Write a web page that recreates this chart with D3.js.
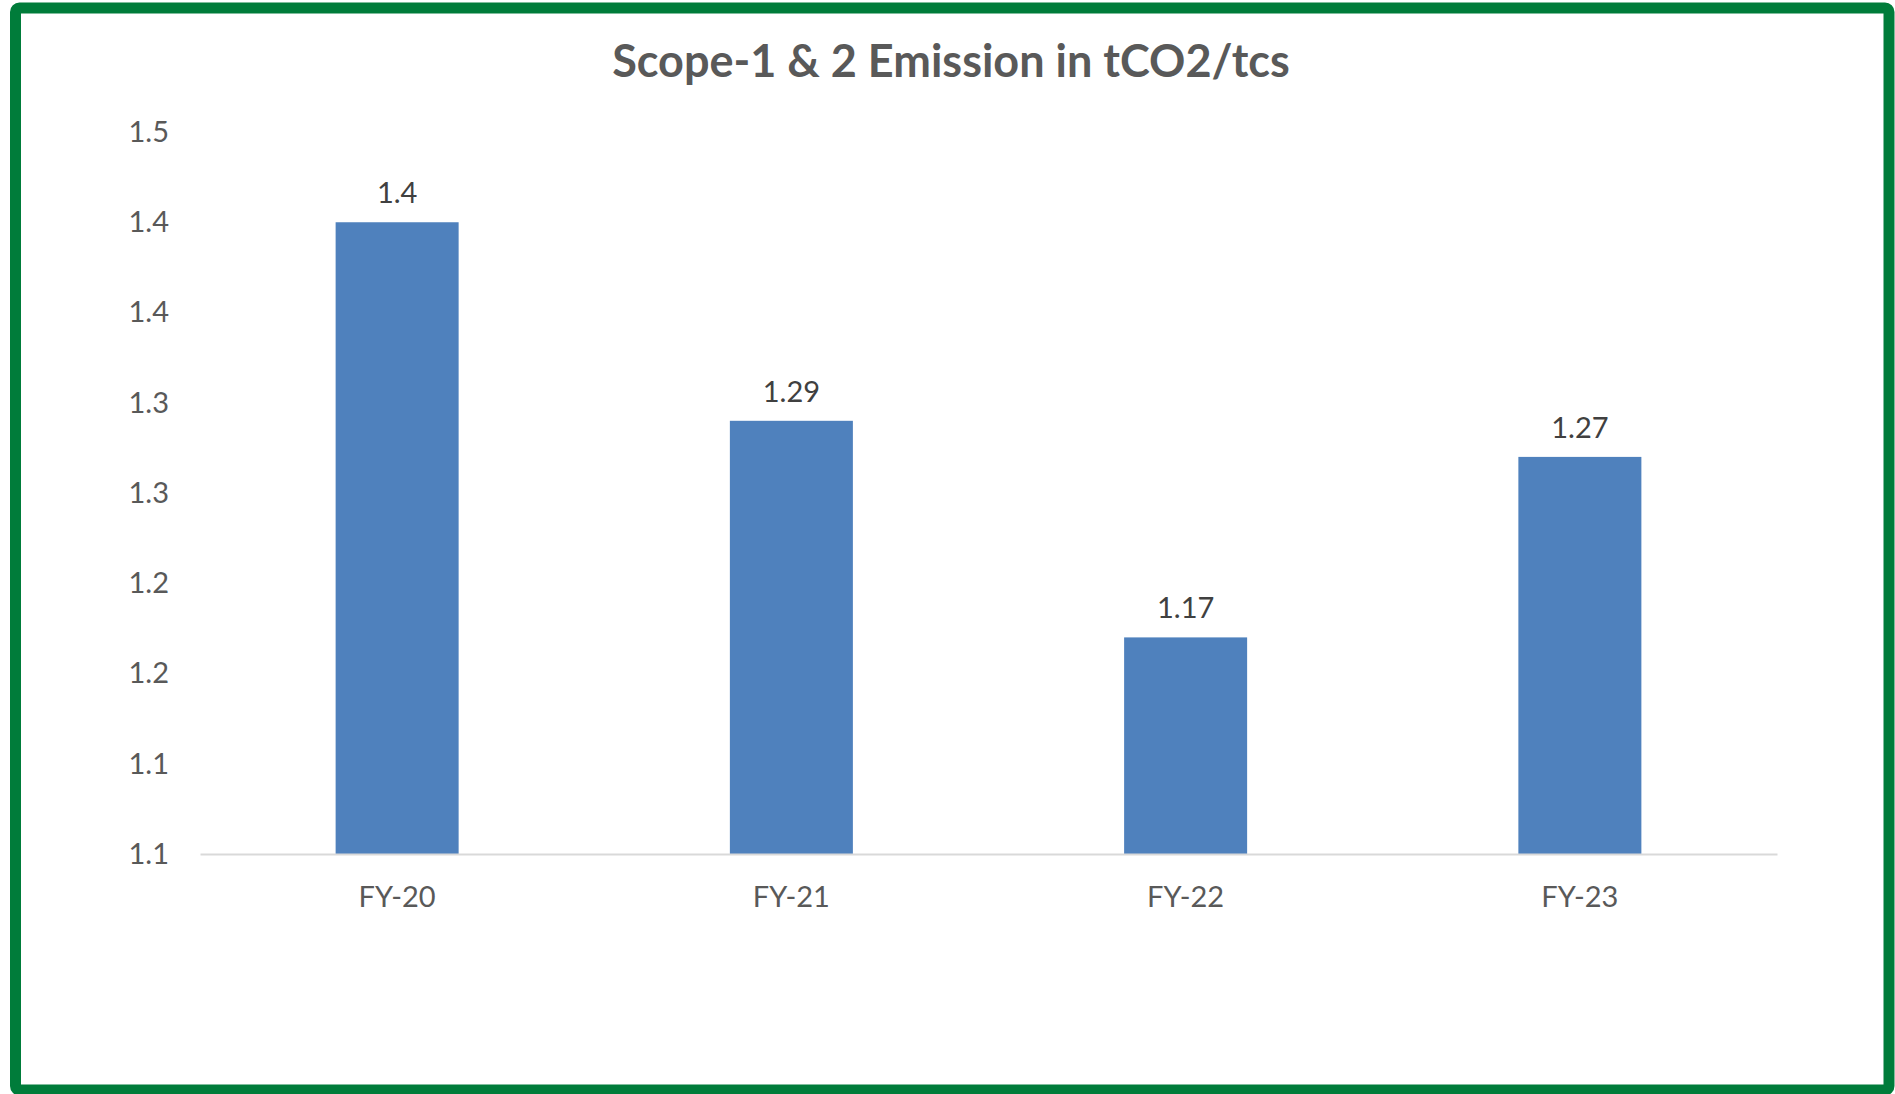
<!DOCTYPE html>
<html>
<head>
<meta charset="utf-8">
<script src="https://cdn.jsdelivr.net/npm/d3@7"></script>
<style>
  html, body { margin: 0; padding: 0; background: #fff; }
  svg { display: block; }
</style>
</head>
<body>
<svg id="chart" width="1895" height="1094"></svg>
<script>
// Scope-1 & 2 emission intensity by financial year
const categories = ["FY-20", "FY-21", "FY-22", "FY-23"];
const values = [1.40, 1.29, 1.17, 1.27];
const valueLabels = ["1.4", "1.29", "1.17", "1.27"];
const tickValues = [1.05, 1.10, 1.15, 1.20, 1.25, 1.30, 1.35, 1.40, 1.45];
const tickLabels = ["1.1", "1.1", "1.2", "1.2", "1.3", "1.3", "1.4", "1.4", "1.5"];
const titleText = "Scope-1 & 2 Emission in tCO2/tcs";

const W = 1895, H = 1094;
const svg = d3.select("#chart");
const font = "Lato, 'Open Sans', sans-serif";

// outer frame
svg.append("rect")
  .attr("x", 15.5).attr("y", 8)
  .attr("width", 1889 - 15.5).attr("height", 1090 - 8)
  .attr("rx", 4)
  .attr("fill", "#fff")
  .attr("stroke", "#007C3A")
  .attr("stroke-width", 11);

const plot = { left: 200, right: 1777, top: 132, bottom: 854 };

const x = d3.scaleBand()
  .domain(categories)
  .range([plot.left, plot.right])
  .paddingInner(0.688)
  .paddingOuter(0.344);

const y = d3.scaleLinear()
  .domain([1.05, 1.45])
  .range([plot.bottom, plot.top]);

// title
svg.append("text")
  .attr("x", 951).attr("y", 77)
  .attr("text-anchor", "middle")
  .attr("font-family", font)
  .attr("font-weight", 700)
  .attr("font-size", 45)
  .attr("fill", "#595959")
  .text(titleText);

// y axis labels (no line, no ticks)
const yAxis = d3.axisLeft(y)
  .tickValues(tickValues)
  .tickFormat((d, i) => tickLabels[i])
  .tickSize(0)
  .tickPadding(0);

const gy = svg.append("g")
  .attr("transform", `translate(169,0)`)
  .call(yAxis);
gy.select(".domain").remove();
gy.selectAll("text")
  .attr("font-family", font)
  .attr("font-size", 29)
  .attr("fill", "#595959");

// bars
svg.append("g").selectAll("rect")
  .data(values)
  .join("rect")
  .attr("x", (d, i) => x(categories[i]))
  .attr("y", d => y(d))
  .attr("width", x.bandwidth())
  .attr("height", d => y(1.05) - y(d))
  .attr("fill", "#4F81BD");

// value labels
svg.append("g").selectAll("text")
  .data(values)
  .join("text")
  .attr("x", (d, i) => x(categories[i]) + x.bandwidth() / 2)
  .attr("y", d => y(d) - 19)
  .attr("text-anchor", "middle")
  .attr("font-family", font)
  .attr("font-size", 29)
  .attr("fill", "#404040")
  .text((d, i) => valueLabels[i]);

// x axis
const xAxis = d3.axisBottom(x).tickSize(0).tickPadding(0);
const gx = svg.append("g")
  .attr("transform", `translate(0,${plot.bottom})`)
  .call(xAxis);
gx.select(".domain")
  .attr("stroke", "#D9D9D9")
  .attr("stroke-width", 2);
gx.selectAll("text")
  .attr("y", 53)
  .attr("dy", 0)
  .attr("font-family", font)
  .attr("font-size", 29)
  .attr("fill", "#595959");
</script>
</body>
</html>
